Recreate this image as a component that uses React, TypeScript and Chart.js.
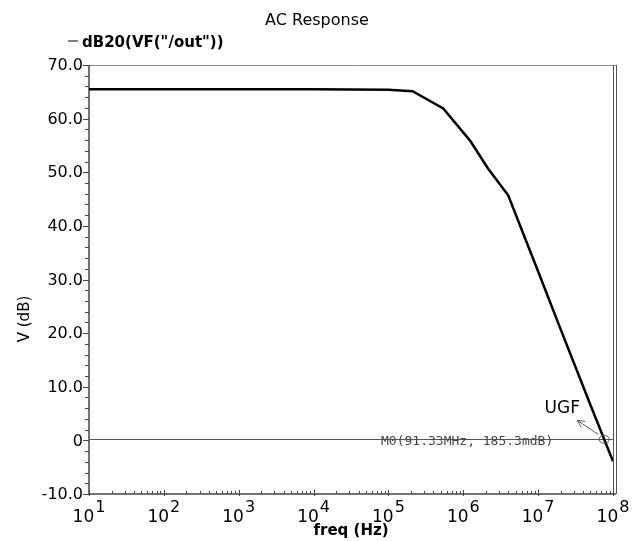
import React, { useEffect, useRef } from 'react';
import { Chart, registerables } from 'chart.js';

Chart.register(...registerables);

// ---- data ----
const freqHz = [10, 100, 1e3, 1e4, 1e5, 2.1e5, 5.4e5, 1.23e6, 2.14e6, 3.98e6, 1e7, 2e7, 5e7, 1e8];
const gainDb = [65.5, 65.5, 65.5, 65.5, 65.4, 65.1, 61.9, 55.9, 50.7, 45.7, 31.5, 20.7, 6.6, -3.9];

const yTickValues = [70, 60, 50, 40, 30, 20, 10, 0, -10];
const yTickLabels = ['70.0', '60.0', '50.0', '40.0', '30.0', '20.0', '10.0', '0', '-10.0'];
const xTickExponents = [1, 2, 3, 4, 5, 6, 7, 8];

const chartTitle = 'AC Response';
const seriesName = 'dB20(VF("/out"))';
const xAxisTitle = 'freq (Hz)';
const yAxisTitle = 'V (dB)';

const markerName = 'M0';
const markerFreqMHz = 91.33;
const markerDb = 0.1853;
const markerTag = 'UGF';

const FONT = '"DejaVu Sans", Verdana, sans-serif';
const MONO = '"DejaVu Sans Mono", monospace';

function markerPixel(chart: any) {
  const xs = chart.scales.x;
  const ys = chart.scales.y;
  let f = freqHz[freqHz.length - 1];
  for (let i = 0; i < gainDb.length - 1; i++) {
    const a = gainDb[i];
    const b = gainDb[i + 1];
    if ((a - markerDb) * (b - markerDb) <= 0 && a !== b) {
      const t = (a - markerDb) / (a - b);
      const la = Math.log10(freqHz[i]);
      const lb = Math.log10(freqHz[i + 1]);
      f = Math.pow(10, la + t * (lb - la));
      break;
    }
  }
  return { x: xs.getPixelForValue(f), y: ys.getPixelForValue(markerDb) };
}

const decor = {
  id: 'decor',
  beforeDatasetsDraw(chart: any) {
    const ctx = chart.ctx;
    const { left, right, top, bottom } = chart.chartArea;
    const xs = chart.scales.x;
    const ys = chart.scales.y;
    ctx.save();

    // frame
    ctx.lineWidth = 1;
    ctx.strokeStyle = '#8a8a8a';
    ctx.beginPath();
    ctx.moveTo(left, Math.round(top) + 0.5);
    ctx.lineTo(right + 3, Math.round(top) + 0.5);
    ctx.stroke();
    ctx.strokeStyle = '#555';
    ctx.beginPath();
    ctx.moveTo(Math.round(right) + 0.5, top);
    ctx.lineTo(Math.round(right) + 0.5, bottom);
    ctx.moveTo(Math.round(right) + 3.5, top);
    ctx.lineTo(Math.round(right) + 3.5, bottom);
    ctx.stroke();

    ctx.strokeStyle = '#444';
    ctx.lineWidth = 1.5;
    ctx.beginPath();
    ctx.moveTo(left, top);
    ctx.lineTo(left, bottom);
    ctx.moveTo(left, bottom);
    ctx.lineTo(right + 3, bottom);
    ctx.stroke();

    // y ticks
    ctx.lineWidth = 1;
    ctx.strokeStyle = '#444';
    for (let v = -10; v <= 70; v += 2) {
      const y = Math.round(ys.getPixelForValue(v)) + 0.5;
      const len = v % 10 === 0 ? 6 : 4;
      ctx.beginPath();
      ctx.moveTo(left - len, y);
      ctx.lineTo(left, y);
      ctx.stroke();
    }
    ctx.fillStyle = '#000';
    ctx.font = `16px ${FONT}`;
    ctx.textAlign = 'right';
    ctx.textBaseline = 'middle';
    yTickValues.forEach((v, i) => {
      ctx.fillText(yTickLabels[i], left - 6, ys.getPixelForValue(v) + 1);
    });

    // x ticks
    for (let k = 1; k <= 7; k++) {
      for (let m = 2; m <= 9; m++) {
        const x = Math.round(xs.getPixelForValue(m * Math.pow(10, k))) + 0.5;
        ctx.beginPath();
        ctx.moveTo(x, bottom);
        ctx.lineTo(x, bottom - 3);
        ctx.stroke();
      }
    }
    xTickExponents.forEach((k) => {
      const x = Math.round(xs.getPixelForValue(Math.pow(10, k))) + 0.5;
      ctx.beginPath();
      ctx.moveTo(x, bottom - 4);
      ctx.lineTo(x, bottom + 2);
      ctx.stroke();
    });
    ctx.textBaseline = 'alphabetic';
    ctx.textAlign = 'left';
    xTickExponents.forEach((k) => {
      const x = xs.getPixelForValue(Math.pow(10, k));
      ctx.font = `17px ${FONT}`;
      const w1 = ctx.measureText('10').width;
      ctx.font = `16px ${FONT}`;
      const w2 = ctx.measureText(String(k)).width;
      const x0 = x - (w1 + w2 + 1) / 2;
      ctx.font = `17px ${FONT}`;
      ctx.fillText('10', x0, bottom + 28);
      ctx.font = `16px ${FONT}`;
      ctx.fillText(String(k), x0 + w1 + 1, bottom + 18);
    });

    // axis titles
    ctx.font = `bold 15px ${FONT}`;
    ctx.textAlign = 'center';
    ctx.textBaseline = 'middle';
    ctx.fillText(xAxisTitle, (left + right) / 2, bottom + 37);
    ctx.font = `15px ${FONT}`;
    ctx.save();
    ctx.translate(25, 319);
    ctx.rotate(-Math.PI / 2);
    ctx.fillText(yAxisTitle, 0, 0);
    ctx.restore();

    // title & legend
    ctx.font = `16px ${FONT}`;
    ctx.fillText(chartTitle, 317, 21);
    ctx.strokeStyle = '#555';
    ctx.lineWidth = 1.5;
    ctx.beginPath();
    ctx.moveTo(68, 41);
    ctx.lineTo(78, 41);
    ctx.stroke();
    ctx.font = `bold 15px ${FONT}`;
    ctx.textAlign = 'left';
    ctx.fillText(seriesName, 82, 43);

    // marker line and text
    const mp = markerPixel(chart);
    ctx.strokeStyle = '#555';
    ctx.lineWidth = 1;
    ctx.beginPath();
    ctx.moveTo(left, Math.round(mp.y) + 0.5);
    ctx.lineTo(right, Math.round(mp.y) + 0.5);
    ctx.stroke();
    ctx.fillStyle = '#444';
    ctx.font = `13px ${MONO}`;
    ctx.textAlign = 'right';
    ctx.textBaseline = 'middle';
    ctx.fillText(`${markerName}(${markerFreqMHz}MHz, ${(markerDb * 1000).toFixed(1)}mdB)`, mp.x - 51, mp.y + 2);
    ctx.restore();
  },
  afterDatasetsDraw(chart: any) {
    const ctx = chart.ctx;
    const mp = markerPixel(chart);
    ctx.save();
    ctx.strokeStyle = '#555';
    ctx.lineWidth = 1;
    ctx.beginPath();
    ctx.ellipse(mp.x, mp.y, 5, 4, 0, 0, Math.PI * 2);
    ctx.stroke();

    // arrow
    const sx = mp.x - 6, sy = mp.y - 5;
    const ex = mp.x - 27, ey = mp.y - 19;
    ctx.beginPath();
    ctx.moveTo(sx, sy);
    ctx.lineTo(ex, ey);
    const ang = Math.atan2(ey - sy, ex - sx);
    const h = 8;
    ctx.moveTo(ex, ey);
    ctx.lineTo(ex - h * Math.cos(ang - 0.45), ey - h * Math.sin(ang - 0.45));
    ctx.moveTo(ex, ey);
    ctx.lineTo(ex - h * Math.cos(ang + 0.45), ey - h * Math.sin(ang + 0.45));
    ctx.stroke();

    ctx.fillStyle = '#000';
    ctx.font = `17px ${FONT}`;
    ctx.textAlign = 'center';
    ctx.textBaseline = 'middle';
    ctx.fillText(markerTag, mp.x - 42, mp.y - 31);
    ctx.restore();
  },
};

export default function App() {
  const ref = useRef<HTMLCanvasElement | null>(null);
  useEffect(() => {
    if (!ref.current) return;
    const chart = new Chart(ref.current, {
      type: 'line',
      data: {
        datasets: [
          {
            label: seriesName,
            data: freqHz.map((f, i) => ({ x: f, y: gainDb[i] })),
            borderColor: '#000',
            borderWidth: 2.5,
            pointRadius: 0,
            tension: 0,
            fill: false,
          },
        ],
      },
      options: {
        responsive: false,
        animation: false,
        devicePixelRatio: 1,
        layout: { padding: { left: 89, top: 65, right: 22, bottom: 47 } },
        plugins: {
          legend: { display: false },
          title: { display: false },
          tooltip: { enabled: false },
        },
        scales: {
          x: { type: 'logarithmic', min: 10, max: 1e8, display: false },
          y: { type: 'linear', min: -10, max: 70, display: false },
        },
      },
      plugins: [decor],
    });
    return () => chart.destroy();
  }, []);
  return (
    <div style={{ position: 'fixed', left: 0, top: 0, width: 635, height: 541, background: '#fff' }}>
      <canvas ref={ref} width={635} height={541} style={{ display: 'block' }} />
    </div>
  );
}
